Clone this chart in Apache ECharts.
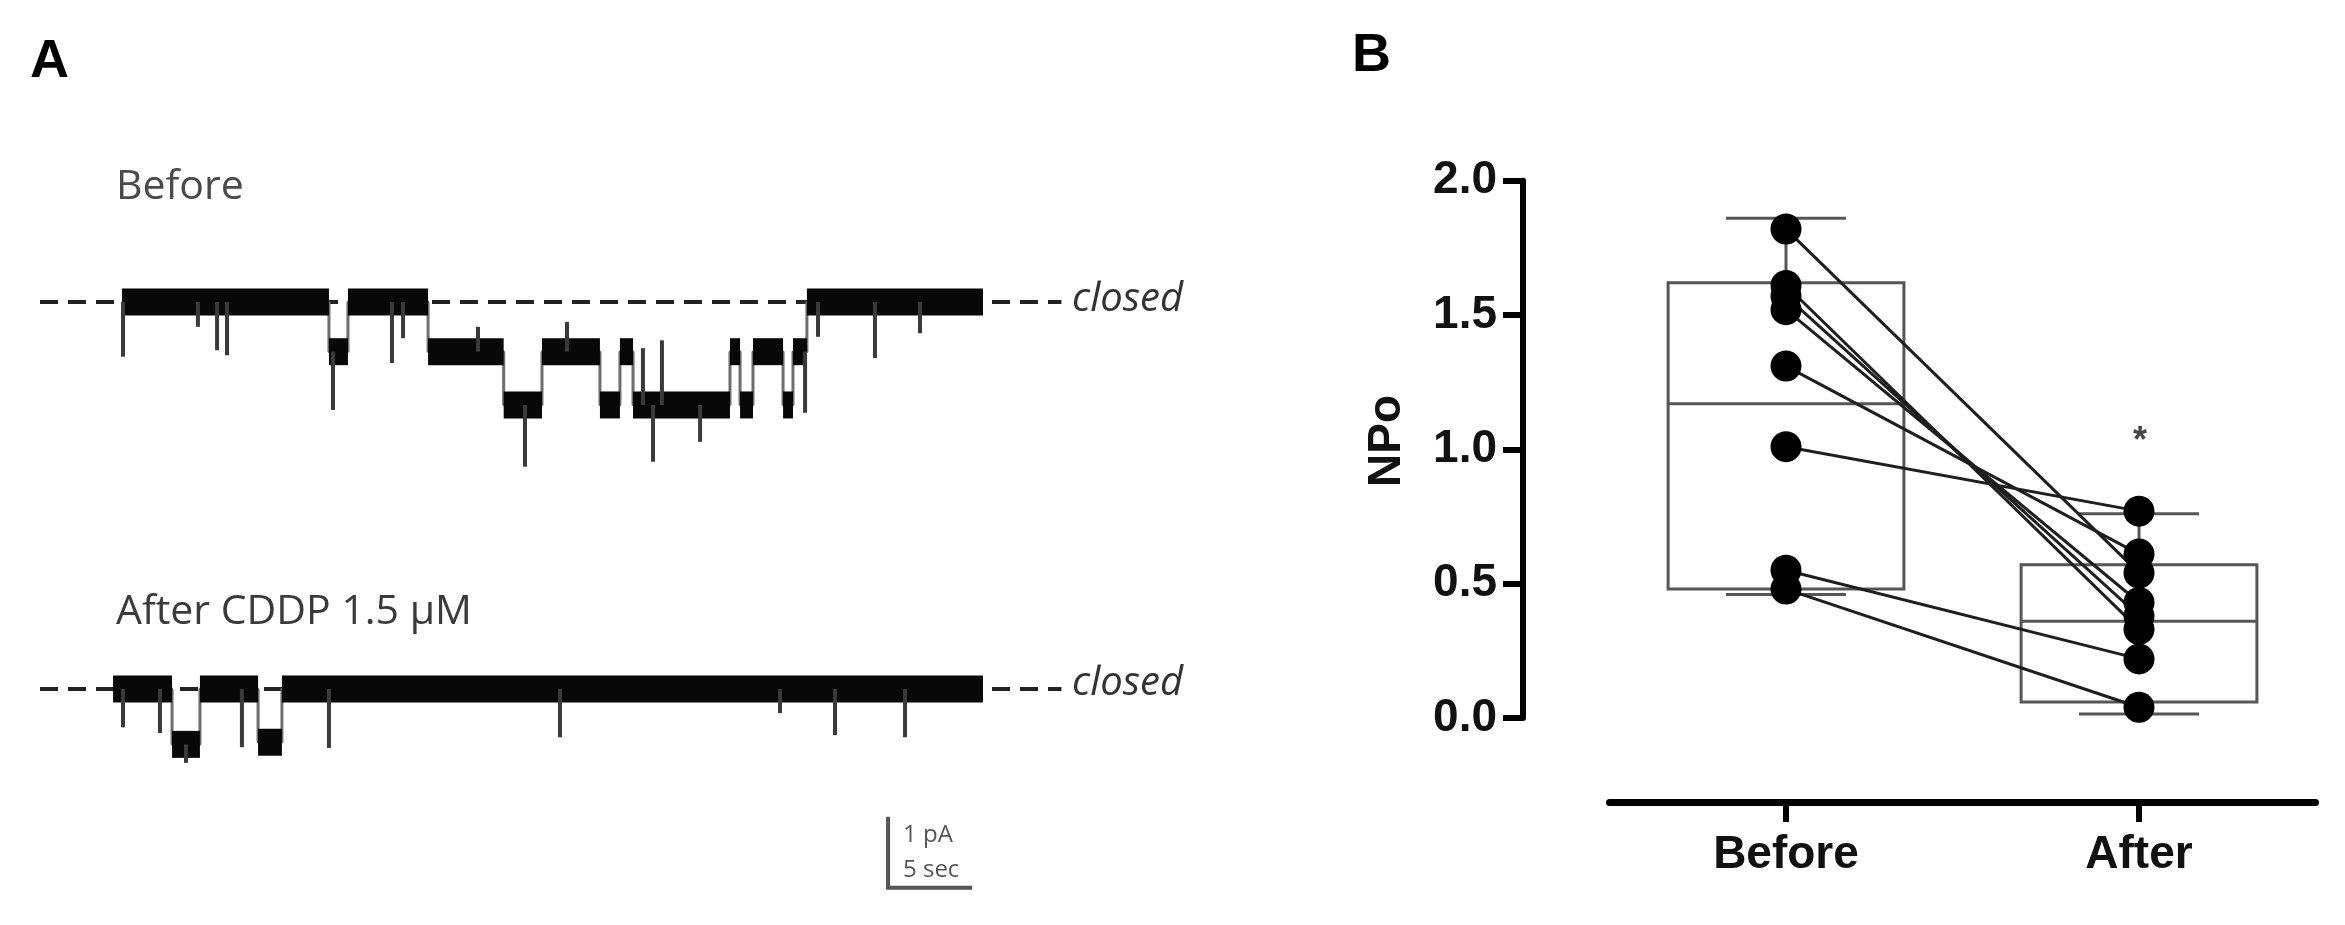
<!DOCTYPE html>
<html>
<head>
<meta charset="utf-8">
<script src="https://cdn.jsdelivr.net/npm/echarts@6/dist/echarts.min.js"></script>
<style>
  html, body { margin: 0; padding: 0; background: #fff; }
  #myChart { width: 2345px; height: 925px; }
</style>
</head>
<body>
<div id="myChart"></div>
<script>
// ---- panel A: single channel recordings (time in s, current in pA, 0 = closed) ----
// [start, end, level]
var beforeSegments = [
  [4.88, 17.2, 0], [17.2, 18.33, -0.7], [18.33, 23.1, 0], [23.1, 27.6, -0.7],
  [27.6, 29.88, -1.45], [29.88, 33.33, -0.7], [33.33, 34.52, -1.45], [34.52, 35.3, -0.7],
  [35.3, 41.07, -1.45], [41.07, 41.67, -0.7], [41.67, 42.44, -1.45], [42.44, 44.23, -0.7],
  [44.23, 44.82, -1.45], [44.82, 45.65, -0.7], [45.65, 56.13, 0]
];
// [time, tip]
var beforeSpikes = [
  [4.94, -0.77], [9.4, -0.35], [10.54, -0.68], [11.13, -0.75], [17.44, -1.52],
  [20.95, -0.86], [21.61, -0.51], [26.07, -0.35], [28.87, -2.32], [31.37, -0.28],
  [35.89, -0.65], [36.49, -2.25], [37.02, -0.54], [39.29, -1.97], [45.54, -1.56],
  [46.31, -0.49], [49.7, -0.79], [52.38, -0.44]
];
var afterSegments = [
  [4.35, 7.86, 0], [7.86, 9.52, -0.78], [9.52, 12.98, 0], [12.98, 14.4, -0.75], [14.4, 56.13, 0]
];
var afterSpikes = [
  [4.94, -0.54], [7.14, -0.62], [8.69, -1.04], [12.02, -0.82], [17.2, -0.83],
  [30.95, -0.68], [44.05, -0.34], [47.32, -0.65], [51.49, -0.68]
];
var scaleBar = [50.48, -2.8]; // corner of the 1 pA / 5 sec bar

// ---- panel B: NPo ----
var categories = ['Before', 'After'];
var npoBefore = [1.82, 1.61, 1.57, 1.52, 1.31, 1.01, 0.55, 0.48];
var npoAfter = [0.54, 0.33, 0.38, 0.43, 0.61, 0.77, 0.22, 0.04];
// min, Q1, median, Q3, max
var boxStats = [
  [0.46, 0.48, 1.17, 1.62, 1.86],
  [0.015, 0.06, 0.36, 0.57, 0.76]
];

var PX_PER_S = 16.8;
var PX_PER_PA = 71;
var T_MAX = 61;
var BAND = 0.19; // half thickness of the noisy trace, pA

function levelAt(segs, t) {
  for (var i = 0; i < segs.length; i++) {
    if (t >= segs[i][0] && t <= segs[i][1]) return segs[i][2];
  }
  return 0;
}

function stepPoints(segs) {
  var pts = [];
  segs.forEach(function (s) {
    pts.push([s[0], s[2]]);
    pts.push([s[1], s[2]]);
  });
  return pts;
}

function traceSeries(idx, segs, spikes) {
  return [
    {
      // dashed closed level
      type: 'line', xAxisIndex: idx, yAxisIndex: idx, z: 1,
      data: [[0, 0], [60.8, 0]], symbol: 'none', silent: true,
      lineStyle: { color: '#222', width: 4, type: [18, 10] }
    },
    {
      // transitions
      type: 'line', xAxisIndex: idx, yAxisIndex: idx, z: 2,
      data: stepPoints(segs), symbol: 'none', silent: true,
      lineStyle: { color: '#6e6e6e', width: 3 }
    },
    {
      // noisy band of each dwell
      type: 'custom', xAxisIndex: idx, yAxisIndex: idx, z: 3,
      data: segs,
      renderItem: function (params, api) {
        var lvl = api.value(2);
        var a = api.coord([api.value(0), lvl + BAND]);
        var b = api.coord([api.value(1), lvl - BAND]);
        return {
          type: 'rect',
          shape: { x: a[0], y: a[1], width: b[0] - a[0], height: b[1] - a[1] },
          style: { fill: '#080808' }
        };
      }
    },
    {
      // brief openings / closings
      type: 'custom', xAxisIndex: idx, yAxisIndex: idx, z: 4,
      data: spikes,
      renderItem: function (params, api) {
        var t = api.value(0);
        var p = api.coord([t, levelAt(segs, t)]);
        var q = api.coord([t, api.value(1)]);
        return {
          type: 'line',
          shape: { x1: p[0], y1: p[1], x2: q[0], y2: q[1] },
          style: { stroke: '#3a3a3a', lineWidth: 4 }
        };
      }
    }
  ];
}

var pairSeries = npoBefore.map(function (b, i) {
  return {
    type: 'line', xAxisIndex: 2, yAxisIndex: 2, z: 6,
    data: [[0, b], [1, npoAfter[i]]],
    symbol: 'none', silent: true,
    lineStyle: { color: '#1e1e1e', width: 3 }
  };
});

var dots = npoBefore.map(function (v) { return [0, v]; })
  .concat(npoAfter.map(function (v) { return [1, v]; }));

var labelFont = 'Liberation Sans, Arial, sans-serif';
var textFont = '"Open Sans", "Noto Sans", sans-serif';

var myChart = echarts.init(document.getElementById('myChart'))
myChart.setOption({
  animation: false,
  backgroundColor: '#fff',
  grid: [
    { left: 40, width: T_MAX * PX_PER_S, top: 302 - 0.5 * PX_PER_PA, height: 3.0 * PX_PER_PA },
    { left: 40, width: T_MAX * PX_PER_S, top: 689 - 0.5 * PX_PER_PA, height: 3.7 * PX_PER_PA },
    { left: 1609.5, width: 706, top: 180.7, height: 537.3 }
  ],
  xAxis: [
    { gridIndex: 0, type: 'value', min: 0, max: T_MAX, show: false },
    { gridIndex: 1, type: 'value', min: 0, max: T_MAX, show: false },
    {
      gridIndex: 2, type: 'category', data: categories, offset: 84,
      axisLine: { show: true, onZero: false, lineStyle: { color: '#000', width: 7 } },
      axisTick: { show: true, alignWithLabel: true, interval: 0, length: 20, lineStyle: { color: '#000', width: 6 } },
      axisLabel: { fontFamily: labelFont, fontSize: 46, fontWeight: 'bold', color: '#111', margin: 30 }
    }
  ],
  yAxis: [
    { gridIndex: 0, type: 'value', min: -2.5, max: 0.5, show: false },
    { gridIndex: 1, type: 'value', min: -3.2, max: 0.5, show: false },
    {
      gridIndex: 2, type: 'value', min: 0, max: 2, interval: 0.5, offset: 86.5,
      splitLine: { show: false },
      axisLine: { show: true, onZero: false, lineStyle: { color: '#000', width: 6 } },
      axisTick: { show: true, length: 20, lineStyle: { color: '#000', width: 6 } },
      axisLabel: {
        fontFamily: labelFont, fontSize: 46, fontWeight: 'bold', color: '#111', margin: 26,
        formatter: function (v) { return v.toFixed(1); }
      }
    }
  ],
  graphic: [
    { type: 'text', x: 30, y: 62, style: { text: 'A', font: 'bold 54px ' + labelFont, fill: '#000', verticalAlign: 'middle' } },
    { type: 'text', x: 1352, y: 56, style: { text: 'B', font: 'bold 54px ' + labelFont, fill: '#000', verticalAlign: 'middle' } },
    { type: 'text', x: 116, y: 187, style: { text: 'Before', font: '41px ' + textFont, fill: '#4a4a4a', verticalAlign: 'middle' } },
    { type: 'text', x: 116, y: 612, style: { text: 'After CDDP 1.5 µM', font: '41px ' + textFont, fill: '#3a3a3a', verticalAlign: 'middle' } },
    { type: 'text', x: 1072, y: 300, style: { text: 'closed', font: 'italic 40px ' + textFont, fill: '#333', verticalAlign: 'middle' } },
    { type: 'text', x: 1072, y: 684, style: { text: 'closed', font: 'italic 40px ' + textFont, fill: '#333', verticalAlign: 'middle' } },
    { type: 'text', x: 903, y: 835, style: { text: '1 pA', font: '24px ' + textFont, fill: '#555', verticalAlign: 'middle' } },
    { type: 'text', x: 903, y: 870, style: { text: '5 sec', font: '24px ' + textFont, fill: '#555', verticalAlign: 'middle' } },
    {
      type: 'text', x: 1387, y: 441, rotation: Math.PI / 2,
      style: { text: 'NPo', font: 'bold 46px ' + labelFont, fill: '#111', align: 'center', verticalAlign: 'middle' }
    },
    { type: 'text', x: 2140, y: 442, style: { text: '*', font: 'bold 36px ' + labelFont, fill: '#444', align: 'center', verticalAlign: 'middle' } }
  ],
  series: traceSeries(0, beforeSegments, beforeSpikes)
    .concat(traceSeries(1, afterSegments, afterSpikes))
    .concat([
      {
        // scale bar
        type: 'custom', xAxisIndex: 1, yAxisIndex: 1, z: 5,
        data: [scaleBar],
        renderItem: function (params, api) {
          var t = api.value(0), c = api.value(1);
          var top = api.coord([t, c + 1]);
          var corner = api.coord([t, c]);
          var right = api.coord([t + 5, c]);
          return {
            type: 'polyline',
            shape: { points: [top, corner, right] },
            style: { stroke: '#555', lineWidth: 4, fill: null }
          };
        }
      },
      {
        // box and whiskers
        type: 'custom', xAxisIndex: 2, yAxisIndex: 2, z: 5,
        data: boxStats.map(function (s, i) { return [i].concat(s); }),
        renderItem: function (params, api) {
          var x = api.value(0);
          var mn = api.coord([x, api.value(1)]);
          var q1 = api.coord([x, api.value(2)]);
          var md = api.coord([x, api.value(3)]);
          var q3 = api.coord([x, api.value(4)]);
          var mx = api.coord([x, api.value(5)]);
          var band = api.size([1, 0])[0];
          var bw = band * 0.668 / 2;
          var cw = band * 0.34 / 2;
          var cx = md[0];
          var st = { stroke: '#565656', lineWidth: 3, fill: null };
          return {
            type: 'group',
            children: [
              { type: 'line', shape: { x1: cx, y1: mx[1], x2: cx, y2: q3[1] }, style: st },
              { type: 'line', shape: { x1: cx, y1: mn[1], x2: cx, y2: q1[1] }, style: st },
              { type: 'line', shape: { x1: cx - cw, y1: mx[1], x2: cx + cw, y2: mx[1] }, style: st },
              { type: 'line', shape: { x1: cx - cw, y1: mn[1], x2: cx + cw, y2: mn[1] }, style: st },
              { type: 'rect', shape: { x: cx - bw, y: q3[1], width: 2 * bw, height: q1[1] - q3[1] }, style: st },
              { type: 'line', shape: { x1: cx - bw, y1: md[1], x2: cx + bw, y2: md[1] }, style: st }
            ]
          };
        }
      }
    ])
    .concat(pairSeries)
    .concat([
      {
        type: 'scatter', xAxisIndex: 2, yAxisIndex: 2, z: 8,
        data: dots, symbol: 'circle', symbolSize: 31,
        itemStyle: { color: '#000', opacity: 1 }
      }
    ])
})
</script>
</body>
</html>
